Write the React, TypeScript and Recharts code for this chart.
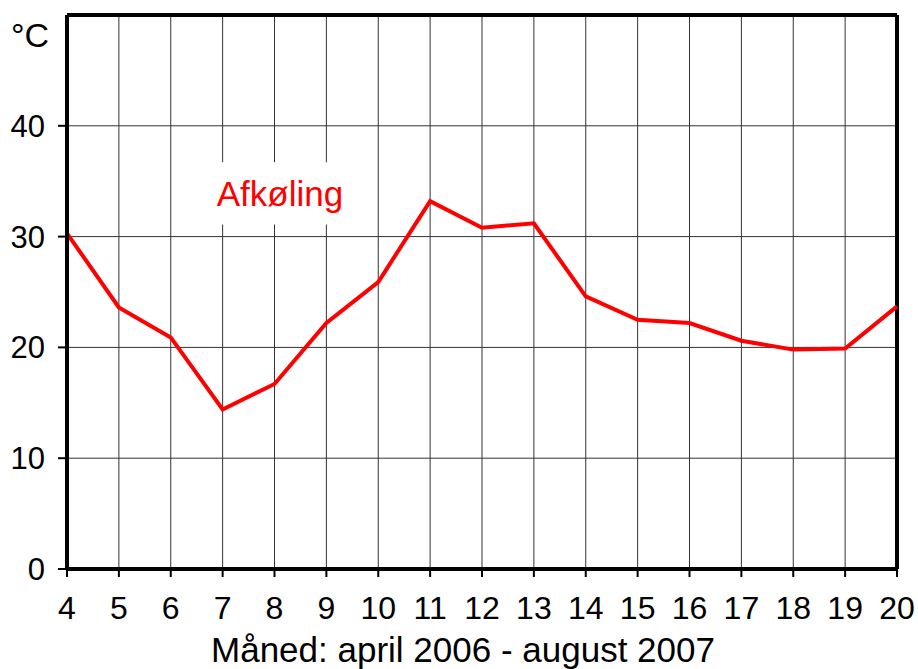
import { LineChart, Line, XAxis, YAxis, CartesianGrid, ReferenceLine, ReferenceArea } from 'recharts'

const months = [4, 5, 6, 7, 8, 9, 10, 11, 12, 13, 14, 15, 16, 17, 18, 19, 20]
const temps = [30.3, 23.6, 20.9, 14.4, 16.7, 22.2, 25.9, 33.2, 30.8, 31.2, 24.6, 22.5, 22.2, 20.6, 19.8, 19.9, 23.7]
const yTicks = [0, 10, 20, 30, 40]

const seriesLabel = 'Afkøling'
const xTitle = 'Måned: april 2006 - august 2007'
const yUnit = '°C'

const data = months.map((m, i) => ({ month: m, temp: temps[i] }))

const font = 'Liberation Sans, Arial, sans-serif'

export default function App() {
  return (
    <div style={{ position: 'absolute', left: 0, top: 0, background: '#fff', fontFamily: font }}>
      <LineChart width={918} height={669} data={data} margin={{ top: 15, right: 21, left: 0, bottom: 0 }}>
        <CartesianGrid stroke="#333" strokeWidth={1} />
        <XAxis
          dataKey="month"
          type="number"
          domain={[4, 20]}
          ticks={months}
          height={100}
          tickSize={8}
          tickMargin={19}
          axisLine={{ stroke: '#000', strokeWidth: 4 }}
          tickLine={{ stroke: '#000', strokeWidth: 2 }}
          tick={{ fill: '#000', fontSize: 32, fontFamily: font }}
          label={{ value: xTitle, position: 'insideBottom', offset: 7, dx: -19, fill: '#000', fontSize: 35, fontFamily: font }}
        />
        <YAxis
          type="number"
          domain={[0, 50]}
          ticks={yTicks}
          width={67}
          tickSize={9}
          tickMargin={13}
          axisLine={{ stroke: '#000', strokeWidth: 4 }}
          tickLine={{ stroke: '#000', strokeWidth: 2 }}
          tick={{ fill: '#000', fontSize: 31, fontFamily: font }}
          label={{
            content: () => (
              <text x={11} y={47} fontSize={34} fontFamily={font} fill="#000">
                {yUnit}
              </text>
            ),
          }}
        />
        <ReferenceLine y={50} stroke="#000" strokeWidth={4} />
        <ReferenceLine x={20} stroke="#000" strokeWidth={4} />
        <ReferenceArea
          x1={6.76}
          x2={9.45}
          y1={31.1}
          y2={36.7}
          fill="#fff"
          fillOpacity={1}
          stroke="none"
          label={{ value: seriesLabel, position: 'center', fill: '#ff0000', fontSize: 35, fontFamily: font }}
        />
        <Line
          type="linear"
          dataKey="temp"
          stroke="#ff0000"
          strokeWidth={4}
          dot={false}
          isAnimationActive={false}
        />
      </LineChart>
    </div>
  )
}
